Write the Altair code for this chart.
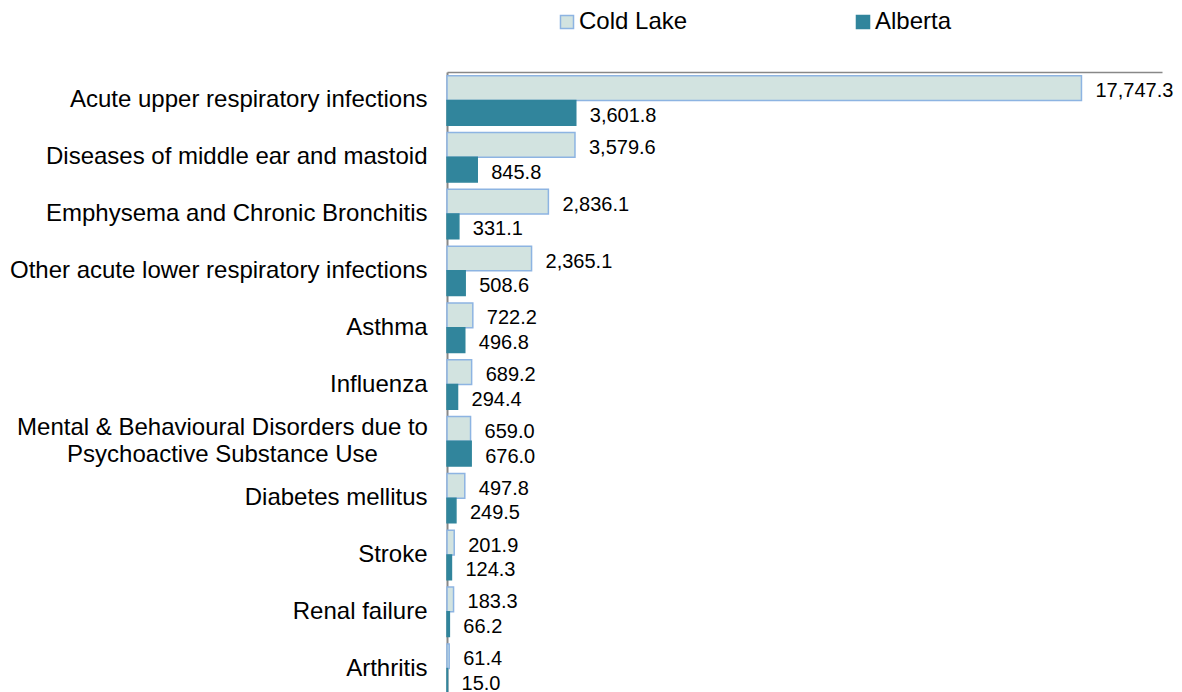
import altair as alt
import pandas as pd

categories = [
    "Acute upper respiratory infections",
    "Diseases of middle ear and mastoid",
    "Emphysema and Chronic Bronchitis",
    "Other acute lower respiratory infections",
    "Asthma",
    "Influenza",
    "Mental & Behavioural Disorders due to\nPsychoactive Substance Use",
    "Diabetes mellitus",
    "Stroke",
    "Renal failure",
    "Arthritis",
]
series = ["Cold Lake", "Alberta"]
cold_lake = [17747.3, 3579.6, 2836.1, 2365.1, 722.2, 689.2, 659.0, 497.8, 201.9, 183.3, 61.4]
alberta = [3601.8, 845.8, 331.1, 508.6, 496.8, 294.4, 676.0, 249.5, 124.3, 66.2, 15.0]

fills = ["#d2e3e0", "#31859c"]
strokes = ["#8db4e2", "#31859c"]

rows = []
for c, a, b in zip(categories, cold_lake, alberta):
    rows.append({"category": c, "series": "Cold Lake", "value": a})
    rows.append({"category": c, "series": "Alberta", "value": b})
df = pd.DataFrame(rows)

FONT = "Liberation Sans"
MULTI = "indexof(datum.value, 'Mental') == 0"

y_enc = alt.Y(
    "category:N",
    sort=categories,
    scale=alt.Scale(domain=categories, range=[0, 625], paddingInner=0.13, paddingOuter=0.065),
    axis=alt.Axis(
        title=None,
        ticks=False,
        tickSize=0,
        labelFont=FONT,
        labelFontSize=24,
        labelColor="#000000",
        labelExpr="split(datum.label, '\\n')",
        labelLineHeight=27,
        labelAlign={"condition": {"test": MULTI, "value": "center"}, "value": "right"},
        labelPadding={"condition": {"test": MULTI, "value": 225}, "value": 20},
        labelOffset={"condition": {"test": MULTI, "value": -13}, "value": 0},
        domainColor="#888888",
        domainWidth=2,
        grid=False,
        labelLimit=500,
    ),
)
x_enc = alt.X(
    "value:Q",
    scale=alt.Scale(domain=[0, 20000], nice=False),
    axis=alt.Axis(
        orient="top",
        title=None,
        labels=False,
        ticks=False,
        grid=False,
        domainColor="#888888",
        domainWidth=1.5,
    ),
)
yoff = alt.YOffset("series:N", sort=series, scale=alt.Scale(domain=series))

bars = alt.Chart(df).mark_bar(strokeWidth=1.5).encode(
    x=x_enc,
    y=y_enc,
    yOffset=yoff,
    color=alt.Color(
        "series:N",
        sort=series,
        scale=alt.Scale(domain=series, range=fills),
        legend=alt.Legend(
            title=None,
            orient="none",
            direction="horizontal",
            legendX=108,
            legendY=-62,
            padding=0,
            columnPadding=163,
            symbolType="square",
            symbolSize=170,
            symbolStrokeWidth=1.5,
            labelFont=FONT,
            labelFontSize=24,
            labelColor="#000000",
            labelOffset=0,
        ),
    ),
    stroke=alt.Stroke("series:N", sort=series, scale=alt.Scale(domain=series, range=strokes), legend=None),
)

labels = alt.Chart(df).mark_text(
    align="left", baseline="middle", dx=14, dy=3, font=FONT, fontSize=20, color="#000000"
).encode(
    x=alt.X("value:Q"),
    y=alt.Y("category:N", sort=categories),
    yOffset=alt.YOffset("series:N", sort=series),
    text=alt.Text("value:Q", format=",.1f"),
)

chart = (
    alt.layer(bars, labels)
    .properties(
        width=715,
        height=612,
        autosize=alt.AutoSizeParams(type="none"),
        padding={"left": 439, "top": 64, "right": 12, "bottom": 8},
    )
    .configure_view(stroke=None)
)

chart.save("out.html", embed_options={"renderer": "svg", "actions": False})
